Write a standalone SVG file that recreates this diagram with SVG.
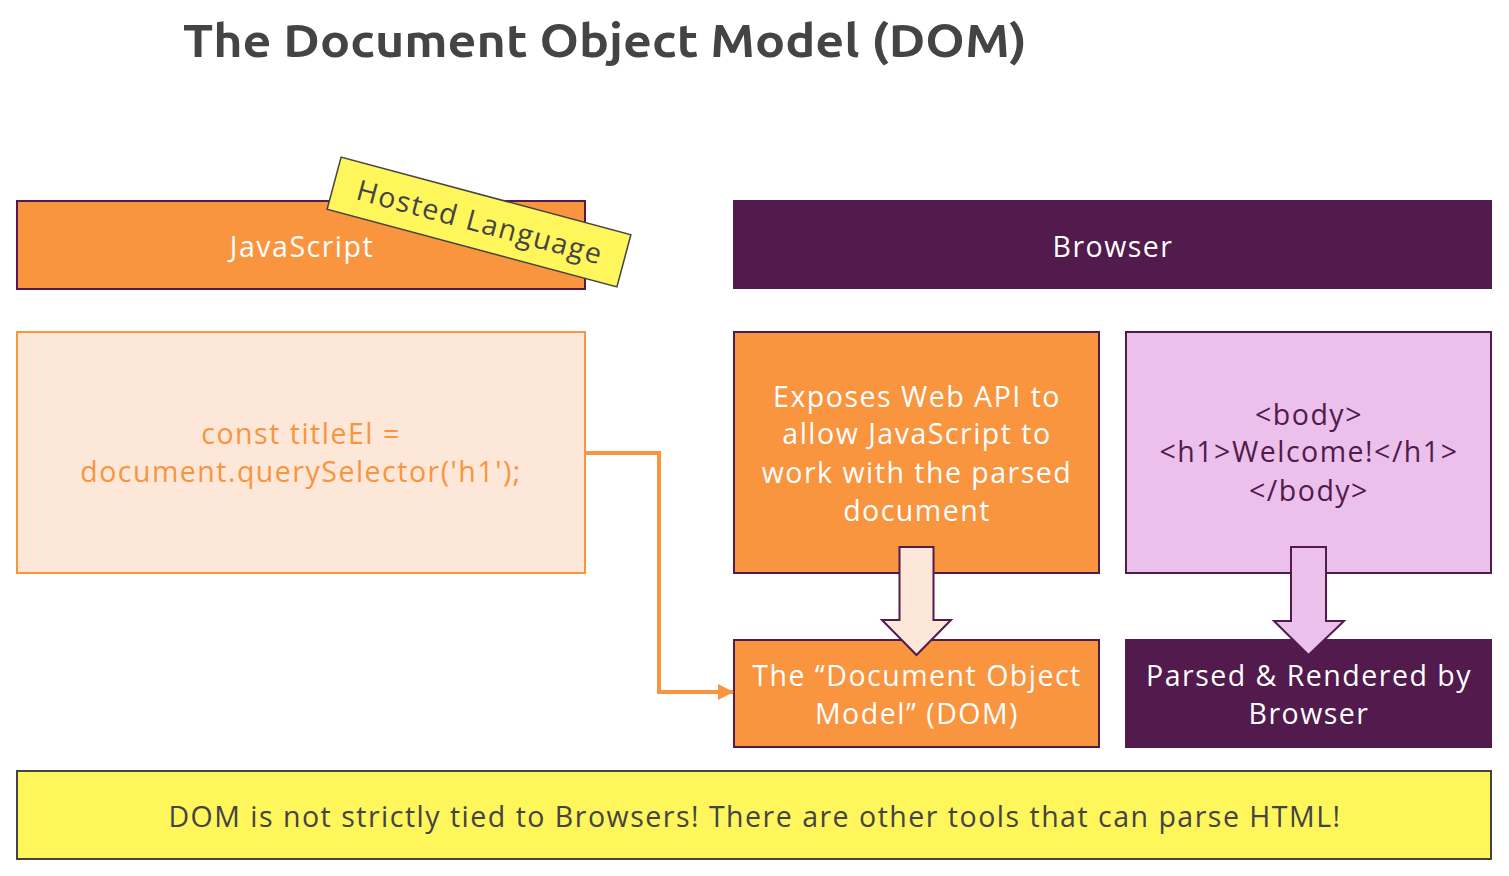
<svg xmlns="http://www.w3.org/2000/svg" width="1509" height="876" viewBox="0 0 1509 876">
<style>
.t{font-family:"Open Sans","Lato",sans-serif;font-size:28.5px;text-anchor:middle;letter-spacing:1.5px;}
.w{fill:#ffffff;}
.o{fill:#F9943F;}
.p{fill:#521A4D;}
.g{fill:#444444;}
.box{stroke:#521A4D;stroke-width:2;}
</style>
<defs>
<marker id="ah" markerWidth="16" markerHeight="16" refX="15" refY="8" orient="auto" markerUnits="userSpaceOnUse" viewBox="0 0 16 16">
<path d="M0,0 L16,8 L0,16 Z" fill="#F9943F"/>
</marker>
</defs>
<rect width="1509" height="876" fill="#ffffff"/>
<text x="605" y="57" text-anchor="middle" font-family="Ubuntu,'Open Sans',sans-serif" font-weight="bold" font-size="46" fill="#444444" textLength="844" lengthAdjust="spacingAndGlyphs">The Document Object Model (DOM)</text>

<g id="javascript">
<rect x="17" y="201" width="568" height="88" fill="#F9943F" class="box"/>
<text x="302" y="257" class="t w">JavaScript</text>
</g>
<g id="hosted-language" transform="translate(479,222) rotate(15)">
<rect x="-150" y="-27" width="300" height="54" fill="#FEF65B" stroke="#444444" stroke-width="1.5"/>
<text x="1" y="10" class="t g" font-size="29" letter-spacing="2">Hosted Language</text>
</g>
<g id="browser">
<rect x="733" y="200" width="759" height="89" fill="#521A4D"/>
<text x="1113" y="257" class="t w">Browser</text>
</g>
<g id="code">
<rect x="17" y="332" width="568" height="241" fill="#FDE7D8" stroke="#F9943F" stroke-width="2"/>
<text x="301" y="444" class="t o">const titleEl =</text>
<text x="301" y="482" class="t o">document.querySelector('h1');</text>
</g>
<g id="web-api">
<rect x="734" y="332" width="365" height="241" fill="#F9943F" class="box"/>
<text x="917" y="407" class="t w">Exposes Web API to</text>
<text x="917" y="444" class="t w">allow JavaScript to</text>
<text x="917" y="483" class="t w">work with the parsed</text>
<text x="917" y="521" class="t w">document</text>
</g>
<g id="html">
<rect x="1126" y="332" width="365" height="241" fill="#EBC0EA" class="box"/>
<text x="1309" y="425" class="t p">&lt;body&gt;</text>
<text x="1309" y="462" class="t p">&lt;h1&gt;Welcome!&lt;/h1&gt;</text>
<text x="1309" y="501" class="t p">&lt;/body&gt;</text>
</g>
<g id="dom">
<rect x="734" y="640" width="365" height="107" fill="#F9943F" class="box"/>
<text x="917" y="686" class="t w">The “Document Object</text>
<text x="917" y="724" class="t w">Model” (DOM)</text>
</g>
<g id="parsed">
<rect x="1126" y="640" width="365" height="107" fill="#521A4D" class="box"/>
<text x="1309" y="686" class="t w">Parsed &amp; Rendered by</text>
<text x="1309" y="724" class="t w">Browser</text>
</g>
<g id="note">
<rect x="17" y="771" width="1474" height="88" fill="#FEF65B" stroke="#444444" stroke-width="2"/>
<text x="755" y="827" class="t g">DOM is not strictly tied to Browsers! There are other tools that can parse HTML!</text>
</g>
<g id="connectors">
<polyline points="585,453 659,453 659,692 733,692" fill="none" stroke="#F9943F" stroke-width="4" marker-end="url(#ah)"/>
<path d="M899.5,547 L933.5,547 L933.5,620 L951,620 L916.5,655 L882,620 L899.5,620 Z" fill="#FDE7D8" stroke="#521A4D" stroke-width="2" stroke-linejoin="miter"/>
<path d="M1291,547 L1326,547 L1326,621 L1344,621 L1308.5,655 L1274,621 L1291,621 Z" fill="#EBC0EA" stroke="#521A4D" stroke-width="2" stroke-linejoin="miter"/>
</g>
</svg>
